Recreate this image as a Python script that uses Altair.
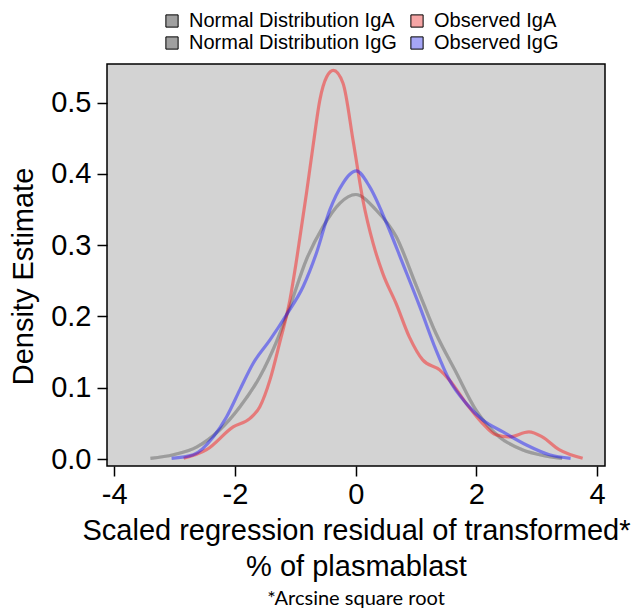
import altair as alt
import pandas as pd

series_names = ["Normal Distribution IgA", "Observed IgA", "Normal Distribution IgG", "Observed IgG"]
legend_colors = ["#a0a0a0", "#f6a6a6", "#a0a0a0", "#a6a6f6"]
# line scale listed in drawing order (kept distinct from the legend scale domain order)
line_order = ["Normal Distribution IgG", "Normal Distribution IgA", "Observed IgA", "Observed IgG"]
line_colors = ["grey", "grey", "red", "blue"]

x_ticks = [-4, -2, 0, 2, 4]
y_ticks = [0.0, 0.1, 0.2, 0.3, 0.4, 0.5]

normal_x = [-3.40, -3.02, -2.63, -2.25, -1.92, -1.59, -1.31, -1.09, -0.82, -0.54, -0.26, 0.0,
            0.34, 0.67, 1.00, 1.33, 1.66, 1.99, 2.38, 2.76, 3.10, 3.42]
normal_iga_y = [0.001, 0.006, 0.017, 0.041, 0.073, 0.115, 0.165, 0.214, 0.279, 0.326, 0.359, 0.371,
                0.349, 0.312, 0.244, 0.176, 0.122, 0.069, 0.031, 0.013, 0.005, 0.001]
normal_igg_y = [0.001, 0.006, 0.017, 0.041, 0.073, 0.115, 0.165, 0.214, 0.279, 0.326, 0.359, 0.371,
                0.349, 0.312, 0.244, 0.176, 0.122, 0.069, 0.031, 0.013, 0.005, 0.001]

obs_iga_x = [-2.85, -2.47, -2.03, -1.75, -1.59, -1.42, -1.26, -1.09, -0.98, -0.815, -0.70, -0.595,
             -0.48, -0.37, -0.21, -0.04, 0.12, 0.29, 0.45, 0.67, 0.89, 1.11, 1.39, 1.55, 1.83,
             2.10, 2.32, 2.54, 2.87, 3.09, 3.37, 3.76]
obs_iga_y = [0.001, 0.013, 0.045, 0.057, 0.073, 0.111, 0.163, 0.223, 0.279, 0.373, 0.443, 0.503,
             0.536, 0.545, 0.527, 0.445, 0.363, 0.302, 0.260, 0.218, 0.171, 0.139, 0.125, 0.111, 0.078,
             0.050, 0.034, 0.031, 0.038, 0.031, 0.013, 0.001]

obs_igg_x = [-3.05, -2.69, -2.36, -2.14, -1.92, -1.70, -1.42, -1.15, -0.87, -0.65, -0.43, -0.21, -0.10,
             0.01, 0.23, 0.51, 0.78, 1.06, 1.33, 1.55, 1.83, 2.10, 2.44, 2.82, 3.21, 3.56]
obs_igg_y = [0.001, 0.006, 0.031, 0.059, 0.097, 0.134, 0.167, 0.202, 0.242, 0.289, 0.349, 0.387, 0.399,
             0.404, 0.382, 0.331, 0.274, 0.214, 0.153, 0.111, 0.078, 0.055, 0.038, 0.020, 0.006, 0.001]

rows = []
for name, xs, ys in [
    (series_names[0], normal_x, normal_iga_y),
    (series_names[2], normal_x, normal_igg_y),
    (series_names[1], obs_iga_x, obs_iga_y),
    (series_names[3], obs_igg_x, obs_igg_y),
]:
    for i, (xv, yv) in enumerate(zip(xs, ys)):
        rows.append({"series": name, "x": xv, "density": yv, "i": i})
df = pd.DataFrame(rows)

FONT = "Liberation Sans"

x_enc = alt.X(
    "x:Q",
    scale=alt.Scale(domain=[-4.12, 4.13], nice=False, zero=False),
    axis=alt.Axis(
        values=x_ticks, labelExpr="toString(datum.value)",
        title=["Scaled regression residual of transformed*", "% of plasmablast"],
        titleLineHeight=36, titlePadding=7, labelPadding=4,
    ),
)
y_enc = alt.Y(
    "density:Q",
    scale=alt.Scale(domain=[-0.0098, 0.554], nice=False, zero=False),
    axis=alt.Axis(values=y_ticks, format=".1f", title="Density Estimate",
                  labelPadding=6, titlePadding=12, titleY=212),
)

lines = alt.Chart(df).mark_line(strokeWidth=3.2, strokeOpacity=0.42, interpolate="monotone").encode(
    x=x_enc,
    y=y_enc,
    stroke=alt.Stroke("series:N", scale=alt.Scale(domain=line_order, range=line_colors), legend=None),
    detail="series:N",
    order="i:Q",
)

legend_layer = alt.Chart(df).transform_calculate(
    legend_name="datum.series"
).mark_square(opacity=0, stroke="black", strokeWidth=1).encode(
    x="x:Q",
    y="density:Q",
    fill=alt.Fill(
        "legend_name:N",
        scale=alt.Scale(domain=series_names, range=legend_colors),
        legend=alt.Legend(
            title=None, orient="none", legendX=55, legendY=-53, columns=2, direction="horizontal",
            padding=0, symbolType="square", symbolSize=150, symbolOpacity=1, symbolStrokeColor="black",
            symbolStrokeWidth=1, labelFont=FONT, labelFontSize=20, labelColor="black", labelLimit=0,
            labelOffset=7, columnPadding=10, rowPadding=2,
        ),
    ),
)

chart = alt.layer(lines, legend_layer).properties(
    width=498,
    height=402,
    background="white",
    autosize=alt.AutoSizeParams(type="none"),
    padding={"left": 99, "top": 56, "right": 28, "bottom": 144},
    title=alt.Title("*Arcsine square root", orient="bottom", font="Lato", fontSize=20,
                    fontWeight="normal", color="black", offset=8),
).configure_view(
    fill="#d3d3d3", stroke="black", strokeWidth=1.5,
).configure_axis(
    labelFont=FONT, titleFont=FONT, labelFontSize=29, titleFontSize=29, titleFontWeight="normal",
    labelColor="black", titleColor="black", tickColor="black", tickWidth=1.5, tickSize=10,
    domain=False, grid=False,
)

chart.save("out.html", embed_options={"renderer": "svg", "actions": False})
